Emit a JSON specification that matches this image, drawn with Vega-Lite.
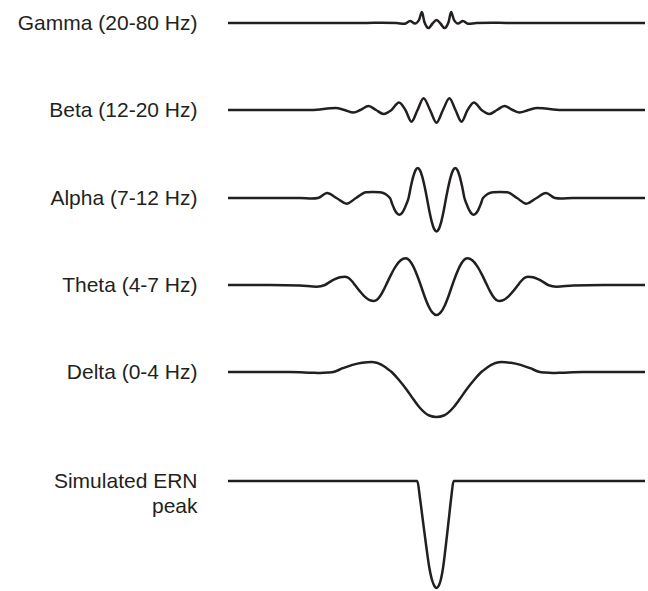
{
  "$schema": "https://vega.github.io/schema/vega-lite/v6.json",
  "padding": {"left": 17, "top": 0, "right": 0, "bottom": 0},
  "spacing": 0,
  "background": "white",
  "config": {
    "view": {"stroke": null},
    "line": {"interpolate": "monotone", "stroke": "#231f20", "strokeWidth": 2.5},
    "axis": {"labelFont": "Liberation Sans", "labelFontSize": 21, "labelColor": "#231f20", "labelPadding": 31, "domain": false, "ticks": false, "grid": false, "labelBaseline": "middle", "labelLineHeight": 25}
  },
  "datasets": {
    "gamma": [
      {"t": -1000, "v": 0}, {"t": -336, "v": 0}, {"t": -264, "v": 0.3}, {"t": -192, "v": 0}, {"t": -153, "v": -0.8}, {"t": -127, "v": 2}, {"t": -103, "v": -0.5}, {"t": -84, "v": 3}, {"t": -70, "v": 11}, {"t": -58, "v": 1}, {"t": -38, "v": -5}, {"t": -19, "v": -0.5}, {"t": 0, "v": 3},
      {"t": 19, "v": -0.5}, {"t": 38, "v": -5}, {"t": 58, "v": 1}, {"t": 70, "v": 11}, {"t": 84, "v": 3}, {"t": 103, "v": -0.5}, {"t": 127, "v": 2}, {"t": 153, "v": -0.8}, {"t": 192, "v": 0}, {"t": 264, "v": 0.3}, {"t": 336, "v": 0}, {"t": 1000, "v": 0}
    ],
    "beta": [
      {"t": -1000, "v": 0}, {"t": -600, "v": 0}, {"t": -484, "v": 2}, {"t": -441, "v": 0}, {"t": -398, "v": -2.5}, {"t": -365, "v": 0}, {"t": -326, "v": 4}, {"t": -290, "v": 0}, {"t": -254, "v": -4}, {"t": -216, "v": 0}, {"t": -180, "v": 7.5}, {"t": -149, "v": 0}, {"t": -120, "v": -11.7}, {"t": -91, "v": 0}, {"t": -62, "v": 11.7}, {"t": -31, "v": 0}, {"t": 0, "v": -12.7},
      {"t": 31, "v": 0}, {"t": 62, "v": 11.7}, {"t": 91, "v": 0}, {"t": 120, "v": -11.7}, {"t": 149, "v": 0}, {"t": 180, "v": 7.5}, {"t": 216, "v": 0}, {"t": 254, "v": -4}, {"t": 290, "v": 0}, {"t": 326, "v": 4}, {"t": 365, "v": 0}, {"t": 398, "v": -2.5}, {"t": 441, "v": 0}, {"t": 484, "v": 2}, {"t": 600, "v": 0}, {"t": 1000, "v": 0}
    ],
    "alpha": [
      {"t": -1000, "v": 0}, {"t": -655, "v": 0}, {"t": -597, "v": -0.5}, {"t": -568, "v": 0}, {"t": -525, "v": 5}, {"t": -480, "v": 0}, {"t": -431, "v": -5.7}, {"t": -386, "v": 0}, {"t": -338, "v": 5.8}, {"t": -305, "v": 6}, {"t": -271, "v": 5.8}, {"t": -223, "v": 0},
      {"t": -211.7, "v": -6.4}, {"t": -200.5, "v": -11.8}, {"t": -189.2, "v": -15.4}, {"t": -178, "v": -16.7}, {"t": -167, "v": -15.4}, {"t": -156, "v": -11.8}, {"t": -145, "v": -6.4}, {"t": -134, "v": 0},
      {"t": -123, "v": 11.5}, {"t": -112, "v": 21.2}, {"t": -101, "v": 27.7}, {"t": -90, "v": 30}, {"t": -79, "v": 27.7}, {"t": -68, "v": 21.2}, {"t": -57, "v": 11.5}, {"t": -46, "v": 0},
      {"t": -34.5, "v": -12.8}, {"t": -23, "v": -23.6}, {"t": -11.5, "v": -30.9}, {"t": 0, "v": -33.4},
      {"t": 11.5, "v": -30.9}, {"t": 23, "v": -23.6}, {"t": 34.5, "v": -12.8}, {"t": 46, "v": 0},
      {"t": 57, "v": 11.5}, {"t": 68, "v": 21.2}, {"t": 79, "v": 27.7}, {"t": 90, "v": 30}, {"t": 101, "v": 27.7}, {"t": 112, "v": 21.2}, {"t": 123, "v": 11.5}, {"t": 134, "v": 0},
      {"t": 145, "v": -6.4}, {"t": 156, "v": -11.8}, {"t": 167, "v": -15.4}, {"t": 178, "v": -16.7}, {"t": 189.2, "v": -15.4}, {"t": 200.5, "v": -11.8}, {"t": 211.7, "v": -6.4}, {"t": 223, "v": 0},
      {"t": 271, "v": 5.8}, {"t": 305, "v": 6}, {"t": 338, "v": 5.8}, {"t": 386, "v": 0}, {"t": 431, "v": -5.7}, {"t": 480, "v": 0}, {"t": 525, "v": 5}, {"t": 568, "v": 0}, {"t": 597, "v": -0.5}, {"t": 655, "v": 0}, {"t": 1000, "v": 0}
    ],
    "theta": [
      {"t": -1000, "v": 0}, {"t": -799, "v": 0}, {"t": -655, "v": -0.5}, {"t": -575, "v": -1.7}, {"t": -535, "v": 0},
      {"t": -511, "v": 3.2}, {"t": -487, "v": 5.9}, {"t": -463, "v": 7.7}, {"t": -439, "v": 8.3}, {"t": -427, "v": 7.7}, {"t": -415, "v": 5.9}, {"t": -403, "v": 3.2}, {"t": -391, "v": 0},
      {"t": -368, "v": -6.1}, {"t": -345.5, "v": -11.3}, {"t": -323, "v": -14.8}, {"t": -300, "v": -16}, {"t": -285.5, "v": -14.8}, {"t": -271, "v": -11.3}, {"t": -256.5, "v": -6.1}, {"t": -242, "v": 0},
      {"t": -218.5, "v": 10.2}, {"t": -195, "v": 18.9}, {"t": -171.5, "v": 24.7}, {"t": -148, "v": 26.7}, {"t": -130, "v": 24.7}, {"t": -112, "v": 18.9}, {"t": -94, "v": 10.2}, {"t": -76, "v": 0},
      {"t": -57, "v": -11.5}, {"t": -38, "v": -21.2}, {"t": -19, "v": -27.7}, {"t": 0, "v": -30},
      {"t": 19, "v": -27.7}, {"t": 38, "v": -21.2}, {"t": 57, "v": -11.5}, {"t": 76, "v": 0},
      {"t": 94, "v": 10.2}, {"t": 112, "v": 18.9}, {"t": 130, "v": 24.7}, {"t": 148, "v": 26.7}, {"t": 171.5, "v": 24.7}, {"t": 195, "v": 18.9}, {"t": 218.5, "v": 10.2}, {"t": 242, "v": 0},
      {"t": 256.5, "v": -6.1}, {"t": 271, "v": -11.3}, {"t": 285.5, "v": -14.8}, {"t": 300, "v": -16}, {"t": 323, "v": -14.8}, {"t": 345.5, "v": -11.3}, {"t": 368, "v": -6.1}, {"t": 391, "v": 0},
      {"t": 403, "v": 3.2}, {"t": 415, "v": 5.9}, {"t": 427, "v": 7.7}, {"t": 439, "v": 8.3}, {"t": 463, "v": 7.7}, {"t": 487, "v": 5.9}, {"t": 511, "v": 3.2}, {"t": 535, "v": 0},
      {"t": 575, "v": -1.7}, {"t": 655, "v": -0.5}, {"t": 799, "v": 0}, {"t": 1000, "v": 0}
    ],
    "delta": [
      {"t": -1000, "v": 0}, {"t": -703, "v": 0}, {"t": -600, "v": -0.7}, {"t": -559, "v": -1}, {"t": -520, "v": -0.6}, {"t": -495, "v": 0}, {"t": -449, "v": 3.8}, {"t": -403, "v": 7.1}, {"t": -357, "v": 9.2}, {"t": -311, "v": 10}, {"t": -287, "v": 9.2}, {"t": -263, "v": 7.1}, {"t": -239, "v": 3.8}, {"t": -215, "v": 0}, {"t": -180, "v": -8}, {"t": -143, "v": -17.7}, {"t": -110, "v": -27.5}, {"t": -79, "v": -36}, {"t": -35, "v": -43.5}, {"t": 0, "v": -45},
      {"t": 35, "v": -43.5}, {"t": 79, "v": -36}, {"t": 110, "v": -27.5}, {"t": 143, "v": -17.7}, {"t": 180, "v": -8}, {"t": 215, "v": 0}, {"t": 239, "v": 3.8}, {"t": 263, "v": 7.1}, {"t": 287, "v": 9.2}, {"t": 311, "v": 10}, {"t": 357, "v": 9.2}, {"t": 403, "v": 7.1}, {"t": 449, "v": 3.8}, {"t": 495, "v": 0}, {"t": 520, "v": -0.6}, {"t": 559, "v": -1}, {"t": 600, "v": -0.7}, {"t": 703, "v": 0}, {"t": 1000, "v": 0}
    ],
    "ern": [
      {"t": -1000, "v": 0}, {"t": -92, "v": 0}, {"t": -80, "v": -16}, {"t": -65, "v": -40}, {"t": -50, "v": -64}, {"t": -35, "v": -86}, {"t": -20, "v": -100}, {"t": -10, "v": -105}, {"t": 0, "v": -107},
      {"t": 10, "v": -105}, {"t": 19, "v": -100}, {"t": 32, "v": -86}, {"t": 45, "v": -64}, {"t": 58, "v": -40}, {"t": 71, "v": -16}, {"t": 82, "v": 0}, {"t": 1000, "v": 0}
    ]
  },
  "vconcat": [
    {
      "data": {"name": "gamma"}, "width": 417, "height": 67,
      "mark": {"type": "line"},
      "encoding": {
        "x": {"field": "t", "type": "quantitative", "scale": {"domain": [-1000, 1000], "nice": false}, "axis": null},
        "y": {"field": "v", "type": "quantitative", "scale": {"domain": [-44, 23], "nice": false, "zero": false}, "axis": {"values": [0], "labelExpr": "'Gamma (20-80 Hz)'", "title": null}}
      }
    },
    {
      "data": {"name": "beta"}, "width": 417, "height": 87,
      "mark": {"type": "line"},
      "encoding": {
        "x": {"field": "t", "type": "quantitative", "scale": {"domain": [-1000, 1000], "nice": false}, "axis": null},
        "y": {"field": "v", "type": "quantitative", "scale": {"domain": [-44, 43], "nice": false, "zero": false}, "axis": {"values": [0], "labelExpr": "'Beta (12-20 Hz)'", "title": null}}
      }
    },
    {
      "data": {"name": "alpha"}, "width": 417, "height": 87,
      "mark": {"type": "line"},
      "encoding": {
        "x": {"field": "t", "type": "quantitative", "scale": {"domain": [-1000, 1000], "nice": false}, "axis": null},
        "y": {"field": "v", "type": "quantitative", "scale": {"domain": [-43, 44], "nice": false, "zero": false}, "axis": {"values": [0], "labelExpr": "'Alpha (7-12 Hz)'", "title": null}}
      }
    },
    {
      "data": {"name": "theta"}, "width": 417, "height": 87,
      "mark": {"type": "line"},
      "encoding": {
        "x": {"field": "t", "type": "quantitative", "scale": {"domain": [-1000, 1000], "nice": false}, "axis": null},
        "y": {"field": "v", "type": "quantitative", "scale": {"domain": [-43, 44], "nice": false, "zero": false}, "axis": {"values": [0], "labelExpr": "'Theta (4-7 Hz)'", "title": null}}
      }
    },
    {
      "data": {"name": "delta"}, "width": 417, "height": 98,
      "mark": {"type": "line"},
      "encoding": {
        "x": {"field": "t", "type": "quantitative", "scale": {"domain": [-1000, 1000], "nice": false}, "axis": null},
        "y": {"field": "v", "type": "quantitative", "scale": {"domain": [-54, 44], "nice": false, "zero": false}, "axis": {"values": [0], "labelExpr": "'Delta (0-4 Hz)'", "title": null}}
      }
    },
    {
      "data": {"name": "ern"}, "width": 417, "height": 165,
      "mark": {"type": "line"},
      "encoding": {
        "x": {"field": "t", "type": "quantitative", "scale": {"domain": [-1000, 1000], "nice": false}, "axis": null},
        "y": {"field": "v", "type": "quantitative", "scale": {"domain": [-110, 55], "nice": false, "zero": false}, "axis": {"values": [0], "labelExpr": "['Simulated ERN', 'peak']", "title": null}}
      }
    }
  ]
}
